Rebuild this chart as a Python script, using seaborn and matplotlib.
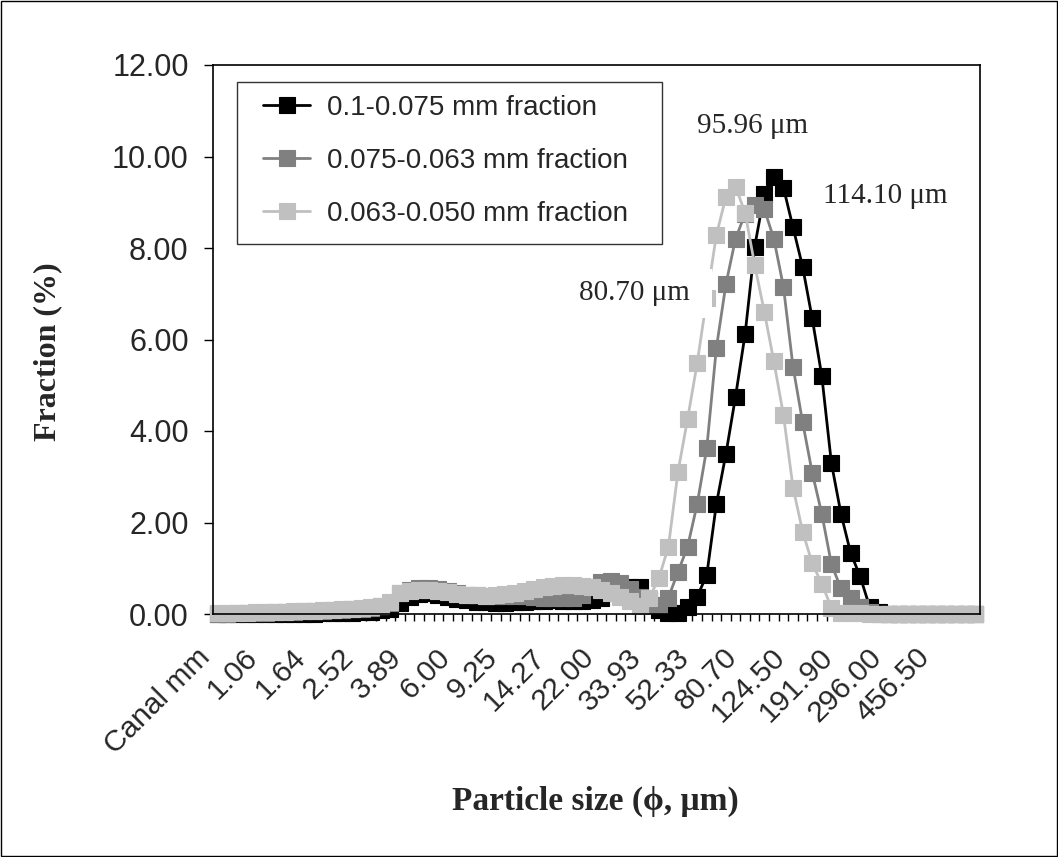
import numpy as np
import pandas as pd
import matplotlib
matplotlib.use("Agg")
import matplotlib.pyplot as plt
import matplotlib.transforms as mtransforms
from matplotlib.patches import Rectangle
from matplotlib.ticker import FixedLocator, FormatStrFormatter
import seaborn as sns

# ---------------- data ----------------
tick_labels = ["Canal mm", "1.06", "1.64", "2.52", "3.89", "6.00", "9.25", "14.27",
               "22.00", "33.93", "52.33", "80.70", "124.50", "191.90", "296.00", "456.50"]
label_step = 5          # one label every 5 channels
n_channels = 80

series_names = ["0.1-0.075 mm fraction", "0.075-0.063 mm fraction", "0.063-0.050 mm fraction"]
series_colors = ["#000000", "#808080", "#C0C0C0"]

frac_100_075 = [
    0.00, 0.00, 0.00, 0.00, 0.00, 0.01, 0.01, 0.01, 0.01, 0.01,
    0.01, 0.02, 0.02, 0.03, 0.03, 0.04, 0.05, 0.08, 0.12, 0.25,
    0.38, 0.44, 0.45, 0.42, 0.38, 0.33, 0.30, 0.27, 0.26, 0.25,
    0.25, 0.26, 0.27, 0.28, 0.29, 0.30, 0.28, 0.28, 0.29, 0.30,
    0.35, 0.45, 0.55, 0.60, 0.58, 0.30, 0.08, 0.03, 0.03, 0.16,
    0.38, 0.85, 2.40, 3.50, 4.75, 6.12, 8.03, 9.18, 9.55, 9.32,
    8.45, 7.59, 6.46, 5.20, 3.30, 2.19, 1.34, 0.82, 0.15, 0.05,
    0.00, 0.00, 0.00, 0.00, 0.00, 0.00, 0.00, 0.00, 0.00, 0.00,
]
frac_075_063 = [
    0.01, 0.01, 0.02, 0.02, 0.03, 0.03, 0.04, 0.04, 0.05, 0.06,
    0.06, 0.07, 0.08, 0.09, 0.10, 0.12, 0.14, 0.17, 0.25, 0.45,
    0.53, 0.56, 0.56, 0.54, 0.50, 0.45, 0.42, 0.41, 0.40, 0.40,
    0.40, 0.40, 0.39, 0.38, 0.36, 0.35, 0.35, 0.36, 0.42, 0.60,
    0.70, 0.72, 0.68, 0.55, 0.38, 0.20, 0.20, 0.36, 0.92, 1.47,
    2.40, 3.62, 5.81, 7.21, 8.20, 8.75, 8.95, 8.85, 8.20, 7.15,
    5.40, 4.19, 3.09, 2.19, 1.09, 0.56, 0.34, 0.15, 0.05, 0.01,
    0.00, 0.00, 0.00, 0.00, 0.00, 0.00, 0.00, 0.00, 0.00, 0.00,
]
frac_063_050 = [
    0.02, 0.02, 0.03, 0.03, 0.04, 0.04, 0.05, 0.05, 0.06, 0.07,
    0.07, 0.08, 0.09, 0.10, 0.11, 0.13, 0.15, 0.18, 0.26, 0.45,
    0.50, 0.52, 0.52, 0.50, 0.47, 0.44, 0.42, 0.41, 0.40, 0.41,
    0.43, 0.46, 0.50, 0.54, 0.58, 0.62, 0.63, 0.63, 0.62, 0.58,
    0.52, 0.45, 0.38, 0.28, 0.18, 0.35, 0.78, 1.47, 3.11, 4.26,
    5.48, 6.90, 8.28, 9.12, 9.34, 8.77, 7.63, 6.61, 5.52, 4.35,
    2.76, 1.80, 1.11, 0.66, 0.14, 0.03, 0.02, 0.02, 0.01, 0.01,
    0.01, 0.01, 0.01, 0.01, 0.01, 0.01, 0.01, 0.01, 0.01, 0.01,
]

peak_labels = ["114.10 \u03bcm", "95.96 \u03bcm", "80.70 \u03bcm"]

# ---------------- style ----------------
sns.set_style("white")
plt.rcParams["font.family"] = ["Liberation Sans", "DejaVu Sans"]
SERIF = ["Liberation Serif", "DejaVu Serif"]

fig = plt.figure(figsize=(10.58, 8.57), dpi=100)
ax = fig.add_axes([213 / 1058, 1 - 614 / 857, (980 - 213) / 1058, (614 - 65) / 857])

channels = np.arange(n_channels)
df = pd.DataFrame({
    "channel": np.tile(channels, 3),
    "fraction": np.concatenate([frac_100_075, frac_075_063, frac_063_050]),
    "series": np.repeat(series_names, n_channels),
})

for name, col in zip(series_names, series_colors):
    sub = df[df["series"] == name]
    sns.lineplot(data=sub, x="channel", y="fraction", ax=ax, color=col, lw=2.0,
                 marker="s", markersize=12, markeredgecolor=col, markeredgewidth=0.8,
                 label=name, clip_on=False, sort=False)

# ---------------- axes ----------------
ax.set_xlim(-0.5, n_channels - 0.5)
ax.set_ylim(0, 12)
ax.set_yticks(np.arange(0, 13, 2))
ax.yaxis.set_major_formatter(FormatStrFormatter("%.2f"))
ax.tick_params(axis="y", which="major", direction="out", length=6.5, width=1,
               labelsize=22, pad=11, left=True, color="black")

major_pos = np.arange(0, len(tick_labels) * label_step, label_step)
ax.xaxis.set_major_locator(FixedLocator(major_pos))
ax.set_xticklabels(tick_labels, rotation=45, ha="right", va="top", rotation_mode="anchor")
ax.xaxis.set_minor_locator(FixedLocator(np.arange(-0.5, n_channels, 1.0)))
ax.tick_params(axis="x", which="major", length=0, labelsize=21.5, pad=21)
ax.tick_params(axis="x", which="minor", direction="out", length=5, width=1,
               bottom=True, color="black")
shift = mtransforms.ScaledTranslation(-22 / 100, 0, fig.dpi_scale_trans)
for lab in ax.get_xticklabels():
    lab.set_transform(lab.get_transform() + shift)

for sp in ax.spines.values():
    sp.set_visible(True)
    sp.set_color("black")
    sp.set_linewidth(1.2)

ax.set_xlabel("Particle size (\u03d5, \u03bcm)", fontsize=24, fontweight="bold", family=SERIF)
ax.xaxis.set_label_coords(0.498, -0.312)
ax.set_ylabel("Fraction (%)", fontsize=23, fontweight="bold", family=SERIF)
ax.yaxis.set_label_coords(-0.196, 0.477)

# ---------------- legend ----------------
leg = ax.legend(loc="upper left", bbox_to_anchor=(0.0652, 0.946), fontsize=20,
                frameon=False, handlelength=1.7, handletextpad=0.6, labelspacing=0.98,
                borderpad=0, borderaxespad=0)
ax.add_patch(Rectangle((0.0313, 0.674), 0.554, 0.295, transform=ax.transAxes,
                       facecolor="none", edgecolor="#333333", linewidth=1.0, zorder=4))

# ---------------- peak annotations ----------------
ax.text(0.877, 0.761, peak_labels[0], transform=ax.transAxes, ha="center", va="center",
        fontsize=21, family=SERIF, zorder=6)
ax.text(0.704, 0.889, peak_labels[1], transform=ax.transAxes, ha="center", va="center",
        fontsize=21, family=SERIF, zorder=6)
ax.add_patch(Rectangle((0.465, 0.539), 0.186, 0.089, transform=ax.transAxes,
                       facecolor="white", edgecolor="none", zorder=5))
ax.text(0.550, 0.585, peak_labels[2], transform=ax.transAxes, ha="center", va="center",
        fontsize=21, family=SERIF, zorder=6)

# figure border
fig.patches.append(Rectangle((0.0006, 0.0008), 0.9988, 0.9984, transform=fig.transFigure,
                             fill=False, edgecolor="black", linewidth=1.0))

fig.savefig("out.png", dpi=100, facecolor="white")
